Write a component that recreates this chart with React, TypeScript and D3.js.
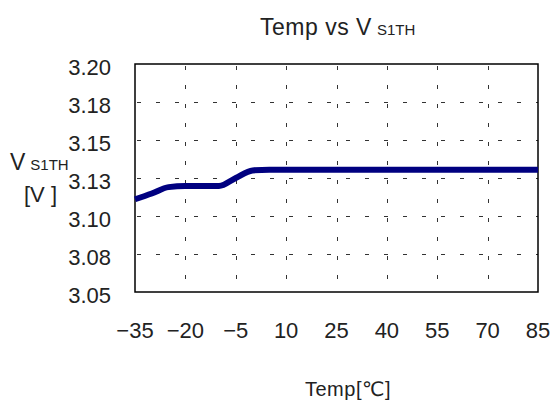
import React, { useEffect, useRef } from 'react';
import * as d3 from 'd3';

// Temp [°C] vs VS1TH [V]
const temps = [-35, -30, -25, -20, -15, -10, -5, 0, 5, 10, 15, 20, 25, 30, 35, 40, 45, 50, 55, 60, 65, 70, 75, 80, 85];
const vs1th = [3.111, 3.1148, 3.119, 3.1197, 3.1197, 3.1197, 3.125, 3.13, 3.1305, 3.1305, 3.1305, 3.1305, 3.1305, 3.1305, 3.1305, 3.1305, 3.1305, 3.1305, 3.1305, 3.1305, 3.1305, 3.1305, 3.1305, 3.1305, 3.1305];

const xTicks = [-35, -20, -5, 10, 25, 40, 55, 70, 85];
const yTicks = [3.05, 3.075, 3.1, 3.125, 3.15, 3.175, 3.2];
const yTickLabels = ['3.05', '3.08', '3.10', '3.13', '3.15', '3.18', '3.20'];

const FONT = '"Liberation Sans", Arial, "DejaVu Sans", sans-serif';

const App = () => {
  const ref = useRef<HTMLDivElement>(null);

  useEffect(() => {
    const width = 551;
    const height = 414;
    const left = 135, right = 538, top = 64, bottom = 292;

    d3.select(ref.current).select('svg').remove();

    const svg = d3
      .select(ref.current)
      .append('svg')
      .attr('width', width)
      .attr('height', height)
      .style('position', 'absolute')
      .style('left', 0)
      .style('top', 0)
      .style('background', '#fff');

    const x = d3.scaleLinear().domain([-35, 85]).range([left, right]);
    const y = d3.scaleLinear().domain([3.05, 3.2]).range([bottom, top]);

    // dashed grid
    const grid = svg.append('g').attr('stroke', '#333').attr('stroke-width', 1).attr('stroke-dasharray', '4,15');
    grid
      .selectAll('line.h')
      .data(yTicks.slice(1, -1))
      .join('line')
      .attr('x1', left + 2)
      .attr('x2', right)
      .attr('y1', (d) => Math.round(y(d)) + 0.5)
      .attr('y2', (d) => Math.round(y(d)) + 0.5);
    grid
      .selectAll('line.v')
      .data(xTicks.slice(1, -1))
      .join('line')
      .attr('x1', (d) => Math.round(x(d)) + 0.5)
      .attr('x2', (d) => Math.round(x(d)) + 0.5)
      .attr('y1', top + 2)
      .attr('y2', bottom);

    // frame
    svg
      .append('rect')
      .attr('x', left)
      .attr('y', top)
      .attr('width', right - left)
      .attr('height', bottom - top)
      .attr('fill', 'none')
      .attr('stroke', '#000')
      .attr('stroke-width', 1.5);

    // series line
    const line = d3
      .line<number>()
      .x((d, i) => x(temps[i]))
      .y((d) => y(d))
      .curve(d3.curveMonotoneX);

    svg
      .append('path')
      .datum(vs1th)
      .attr('d', line)
      .attr('fill', 'none')
      .attr('stroke', '#000080')
      .attr('stroke-width', 6);

    // tick labels
    svg
      .append('g')
      .selectAll('text')
      .data(yTicks)
      .join('text')
      .attr('x', 111)
      .attr('y', (d) => y(d) + 11)
      .attr('text-anchor', 'end')
      .attr('font-family', FONT)
      .attr('font-size', 22)
      .attr('fill', '#222')
      .text((d, i) => yTickLabels[i]);

    svg
      .append('g')
      .selectAll('text')
      .data(xTicks)
      .join('text')
      .attr('x', (d) => x(d))
      .attr('y', 338)
      .attr('text-anchor', 'middle')
      .attr('font-family', FONT)
      .attr('font-size', 22)
      .attr('fill', '#222')
      .text((d) => (d < 0 ? '\u2212' + Math.abs(d) : String(d)));

    // title
    const title = svg
      .append('text')
      .attr('x', 260)
      .attr('y', 35)
      .attr('font-family', FONT)
      .attr('font-size', 23)
      .attr('letter-spacing', 0.5)
      .attr('fill', '#222');
    title.append('tspan').text('Temp vs V');
    title.append('tspan').attr('font-size', 15).attr('letter-spacing', 0).attr('dx', 5).text('S1TH');

    // y axis label
    const yl = svg
      .append('text')
      .attr('x', 10)
      .attr('y', 170)
      .attr('font-family', FONT)
      .attr('font-size', 23)
      .attr('fill', '#222');
    yl.append('tspan').text('V');
    yl.append('tspan').attr('font-size', 15).attr('dx', 5).text('S1TH');

    svg
      .append('text')
      .attr('x', 24)
      .attr('y', 202)
      .attr('font-family', FONT)
      .attr('font-size', 22)
      .attr('fill', '#222')
      .text('[V ]');

    // x axis label
    svg
      .append('text')
      .attr('x', 348)
      .attr('y', 396)
      .attr('text-anchor', 'middle')
      .attr('font-family', FONT)
      .attr('font-size', 20)
      .attr('letter-spacing', 0.5)
      .attr('fill', '#222')
      .text('Temp[\u2103]');
  }, []);

  return <div ref={ref}></div>;
};

export default App;
